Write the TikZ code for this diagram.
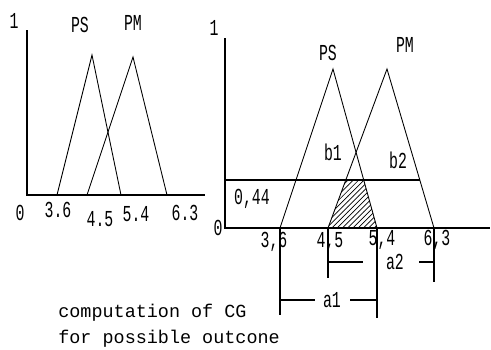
\documentclass[tikz,border=0pt]{standalone}
\usepackage{fontspec}
\newfontfamily\plotfont[FakeStretch=0.65]{Liberation Mono}
\newfontfamily\notefont{Liberation Mono}
\usetikzlibrary{patterns}

\begin{document}
\begin{tikzpicture}[x=0.02cm, y=-0.02cm, every node/.style={font=\plotfont\fontsize{13}{13}\selectfont, inner sep=0pt}, axis/.style={line width=1pt}, memb/.style={line width=0.5pt}, dim/.style={line width=0.8pt}]
	\useasboundingbox (0,0) rectangle (491,349);
	\coordinate (O1) at (27,195); \coordinate (Y1) at (27,30); \coordinate (X1) at (205,195);
	\coordinate (s1a) at (57,195); \coordinate (s1b) at (92,55); \coordinate (s1c) at (121,195);
	\coordinate (m1a) at (87,195); \coordinate (m1b) at (133,57); \coordinate (m1c) at (167,195);
	\draw[axis] (Y1) -- (O1) -- (X1);
	\draw[memb] (s1a) -- (s1b) -- (s1c);
	\draw[memb] (m1a) -- (m1b) -- (m1c);
	\node (one1) at (14,21) {1};
	\node (ps1) at (80,25) {PS};
	\node (pm1) at (133,23) {PM};
	\node (zero1) at (20,213) {0};
	\node (t36) at (58,210) {3.6};
	\node (t45) at (100,219) {4.5};
	\node (t54) at (136,214) {5.4};
	\node (t63) at (185,213) {6.3};
	\coordinate (O2) at (225,228); \coordinate (Y2) at (225,38); \coordinate (X2) at (490,228);
	\coordinate (s2a) at (280,228); \coordinate (s2b) at (333,69); \coordinate (s2c) at (377,228);
	\coordinate (m2a) at (328,228); \coordinate (m2b) at (387,69); \coordinate (m2c) at (434,228);
	\coordinate (c1) at (225,180); \coordinate (c2) at (420,180);
	\fill[pattern=north east lines] (m2a) -- (intersection of m2a--m2b and c1--c2) -- (intersection of s2b--s2c and c1--c2) -- (s2c) -- cycle;
	\draw[axis] (Y2) -- (O2) -- (X2);
	\draw[memb] (s2a) -- (s2b) -- (s2c);
	\draw[memb] (m2a) -- (m2b) -- (m2c);
	\draw[dim] (c1) -- (c2);
	\node (one2) at (214,28) {1};
	\node (zero2) at (218,228) {0};
	\node (ps2) at (328,53) {PS};
	\node (pm2) at (405,45) {PM};
	\node (b1) at (333,152) {b1};
	\node (b2) at (398,160) {b2};
	\node (cut) at (252,199) {0,44};
	\node (u36) at (274,242) {3,6};
	\node (u45) at (330,242) {4,5};
	\node (u54) at (382,240) {5,4};
	\node (u63) at (437,240) {6,3};
	\coordinate (d36) at (280,315); \coordinate (d45) at (328,278); \coordinate (d54) at (377,318); \coordinate (d63) at (434,282);
	\draw[dim] (s2a) -- (d36);
	\draw[dim] (m2a) -- (d45);
	\draw[dim] (s2c) -- (d54);
	\draw[dim] (m2c) -- (d63);
	\node (a2) at (395,262) {a2};
	\node (a1) at (332,300) {a1};
	\draw[dim] (328,262) -- (363,262);
	\draw[dim] (419,262) -- (434,262);
	\draw[dim] (280,300) -- (315,300);
	\draw[dim] (350,300) -- (377,300);
	\node[anchor=west, align=left, font=\notefont\fontsize{10.5}{15}\selectfont] (note) at (58,326) {computation of CG\\for possible outcone};
\end{tikzpicture}
\end{document}
